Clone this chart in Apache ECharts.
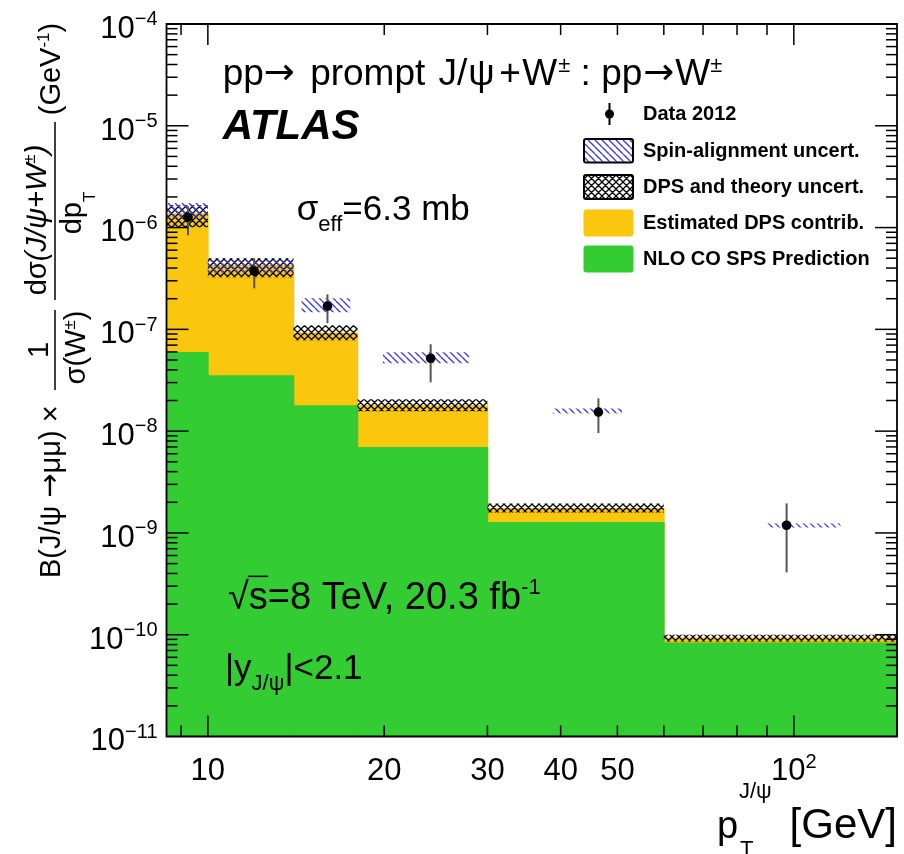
<!DOCTYPE html>
<html><head><meta charset="utf-8">
<script src="https://cdn.jsdelivr.net/npm/echarts@6/dist/echarts.min.js"></script>
<style>html,body{margin:0;padding:0;background:#fff;}#c{width:904px;height:854px;}</style>
</head><body><div id="c"></div>
<script>
// ---------------- data ----------------
const binLow  = [8.5, 10, 14, 18, 30, 60];
const binHigh = [10, 14, 18, 30, 60, 150];
const spsPrediction = [6.0e-8, 3.54e-8, 1.8e-8, 6.98e-9, 1.28e-9, 8.4e-11];
const spsPlusDps    = [1.38e-6, 4.3e-7, 9.3e-8, 1.8e-8, 1.76e-9, 9.4e-11];
const dpsUncLow  = [1.01e-6, 3.25e-7, 7.8e-8, 1.57e-8, 1.59e-9, 8.6e-11];
const dpsUncHigh = [1.66e-6, 5.0e-7, 1.1e-7, 2.06e-8, 1.95e-9, 1.0e-10];
const spinXLow  = [8.5, 10, 14.45, 19.9, 38.8, 89.8];
const spinXHigh = [10, 14, 17.5, 27.9, 50.9, 120.1];
const spinLow  = [1.24e-6, 3.57e-7, 1.47e-7, 4.65e-8, 1.49e-8, 1.13e-9];
const spinHigh = [1.74e-6, 4.79e-7, 2.02e-7, 5.96e-8, 1.67e-8, 1.24e-9];
const dataX = [9.25, 12, 16, 24, 46.4, 97.2];
const dataY = [1.265e-6, 3.73e-7, 1.69e-7, 5.2e-8, 1.54e-8, 1.19e-9];
const dataErrLow  = [8.4e-7, 2.53e-7, 1.15e-7, 3.02e-8, 9.57e-9, 4.1e-10];
const dataErrHigh = [1.62e-6, 5.0e-7, 2.21e-7, 7.14e-8, 2.1e-8, 1.95e-9];
const xTickLabelValues = [10, 20, 30, 40, 50, 100];
const xTickLabels = [['10',''], ['20',''], ['30',''], ['40',''], ['50',''], ['10','2']];
const xMajorTickValues = [10, 100];
const xMinorTickValues = [9, 20, 30, 40, 50, 60, 70, 80, 90];
const yDecadeExponents = [-11, -10, -9, -8, -7, -6, -5, -4];
const yMinorMultipliers = [2, 3, 4, 5, 6, 7, 8, 9];
const legendLabels = ['Data 2012', 'Spin-alignment uncert.', 'DPS and theory uncert.', 'Estimated DPS contrib.', 'NLO CO SPS Prediction'];

const X_MIN = 8.5, X_MAX = 150, Y_MIN = 1e-11, Y_MAX = 1e-4;
const YELLOW = '#fac60e', GREEN = '#33cc33', BLUE = '#3535ff';

// ---------------- helpers ----------------
const FF = '"Liberation Sans", Arial, Helvetica, sans-serif';
const FD = '"DejaVu Sans", sans-serif';
const mctx = document.createElement('canvas').getContext('2d');
function fnt(p) { return (p.italic ? 'italic ' : '') + (p.bold ? 'bold ' : '') + p.size + 'px ' + (p.fam || FF); }
function measure(p) { mctx.font = fnt(p); return mctx.measureText(p.t).width; }
function run(x, base, parts, align, z) {
  const ws = parts.map(p => measure(p) + (p.dx || 0));
  const total = ws.reduce((a, b) => a + b, 0);
  let cx = align === 'right' ? x - total : (align === 'center' ? x - total / 2 : x);
  const out = [];
  parts.forEach((p, i) => {
    if (p.t) {
      const el = {type: 'text', x: cx + (p.pre || 0), y: base + (p.dy || 0) - 0.3465 * p.size, silent: true,
        style: {text: p.t, font: fnt(p), fill: p.color || '#000', align: 'left', verticalAlign: 'middle'}};
      if (z != null) el.z = z;
      out.push(el);
    }
    cx += ws[i];
  });
  return out;
}
function makeHatch(size, color, lw, cross) {
  const c = document.createElement('canvas'); c.width = size; c.height = size;
  const g = c.getContext('2d'); g.strokeStyle = color; g.lineWidth = lw;
  g.beginPath();
  [-size, 0, size].forEach(k => { g.moveTo(k, 0); g.lineTo(k + size, size); });
  if (cross) [-size, 0, size].forEach(k => { g.moveTo(k + size, 0); g.lineTo(k, size); });
  g.stroke();
  return c;
}
const spinPattern = {image: makeHatch(7, BLUE, 1.3, false), repeat: 'repeat'};
const dpsPattern = {image: makeHatch(7, '#000', 1.3, true), repeat: 'repeat'};

// ---------------- render functions ----------------
function barRender(color) {
  return function (params, api) {
    const a = api.coord([api.value(0), api.value(2)]);
    const b = api.coord([api.value(1), Y_MIN]);
    // small overlap so neighbouring bins leave no anti-aliasing seam
    return {type: 'rect', shape: {x: a[0], y: a[1], width: b[0] - a[0] + 0.8, height: b[1] - a[1]}, style: {fill: color}};
  };
}
function bandRender(pattern) {
  return function (params, api) {
    const a = api.coord([api.value(0), api.value(3)]);
    const b = api.coord([api.value(1), api.value(2)]);
    return {type: 'rect', shape: {x: a[0], y: a[1], width: b[0] - a[0], height: b[1] - a[1]}, style: {fill: pattern}};
  };
}
function pointRender(params, api) {
  const x = api.value(0);
  const p = api.coord([x, api.value(1)]);
  const lo = api.coord([x, api.value(2)]);
  const hi = api.coord([x, api.value(3)]);
  return {type: 'group', children: [
    {type: 'line', shape: {x1: p[0], y1: lo[1], x2: p[0], y2: hi[1]}, style: {stroke: '#555', lineWidth: 2}},
    {type: 'circle', shape: {cx: p[0], cy: p[1], r: 4.8}, style: {fill: '#000'}}
  ]};
}
function frameRender(params, api) {
  const cs = params.coordSys;
  const L = cs.x, T = cs.y, R = cs.x + cs.width, B = cs.y + cs.height;
  const ch = [];
  const tk = (x1, y1, x2, y2) => ch.push({type: 'line', shape: {x1, y1, x2, y2}, style: {stroke: '#000', lineWidth: 1.5}});
  const px = v => api.coord([v, Y_MIN])[0];
  const py = v => api.coord([X_MIN, v])[1];
  xMajorTickValues.forEach(v => { const x = px(v); tk(x, B, x, B - 21); tk(x, T, x, T + 21); });
  xMinorTickValues.forEach(v => { const x = px(v); tk(x, B, x, B - 11); tk(x, T, x, T + 11); });
  yDecadeExponents.forEach(e => {
    const y = py(Math.pow(10, e));
    if (e > -11 && e < -4) { tk(L, y, L + 22, y); tk(R, y, R - 22, y); }
    if (e < -4) yMinorMultipliers.forEach(m => {
      const yy = py(m * Math.pow(10, e)); tk(L, yy, L + 11, yy); tk(R, yy, R - 11, yy);
    });
    ch.push(...run(L - 9, y + 16, [{t: '10', size: 31}, {t: '\u2212' + Math.abs(e), size: 20, dy: -13.4}], 'right'));
  });
  xTickLabelValues.forEach((v, i) => {
    const lab = xTickLabels[i];
    ch.push(...run(px(v), B + 45.5, [{t: lab[0], size: 31}, {t: lab[1], size: 20, dy: -13}], 'center'));
  });
  ch.push({type: 'rect', shape: {x: L, y: T, width: cs.width, height: cs.height}, style: {fill: 'rgba(0,0,0,0)', stroke: '#000', lineWidth: 1.8}});
  return {type: 'group', children: ch};
}

// ---------------- texts / legend (graphic) ----------------
const graphics = [];
const Z = 100;
graphics.push(...run(222.7, 87.5, [
  {t: 'pp', size: 37}, {t: '\u2192', size: 37, fam: FD, dx: 5}, {t: ' prompt ', size: 37, dx: 3},
  {t: 'J/', size: 37, dx: 1}, {t: '\u03c8', size: 37, dx: 3}, {t: '+', size: 37, pre: 1.5, dx: 3}, {t: 'W', size: 37, dx: 1},
  {t: '\u00b1', size: 22, dy: -14}, {t: ' : pp', size: 37, dx: 1}, {t: '\u2192', size: 37, fam: FD, dx: 1}, {t: 'W', size: 37}, {t: '\u00b1', size: 22, dy: -14}], 'left', Z));
graphics.push(...run(222.7, 141.7, [{t: 'ATLAS', size: 42, bold: true, italic: true}], 'left', Z));
graphics.push(...run(296.7, 222.7, [{t: '\u03c3', size: 35}, {t: 'eff', size: 22, dy: 10}, {t: '=6.3 mb', size: 35}], 'left', Z));
(function () {
  const x0 = 228, b = 611.7, s = 38;
  const wr = measure({t: '\u221a', size: s}), ws = measure({t: 's', size: s});
  graphics.push(...run(x0, b, [{t: '\u221a', size: s}, {t: 's', size: s}, {t: '=8 TeV, 20.3 fb', size: s}, {t: '-1', size: 22, dy: -16}], 'left', Z));
  graphics.push({type: 'line', z: Z, silent: true, shape: {x1: x0 + wr - 1, y1: b - 0.93 * s, x2: x0 + wr + ws, y2: b - 0.93 * s}, style: {stroke: '#000', lineWidth: 1.5}});
})();
graphics.push(...run(225, 681.7, [{t: '|y', size: 35}, {t: 'J/\u03c8', size: 22, dy: 10}, {t: '|<2.1', size: 35}], 'left', Z));

// x-axis title
graphics.push(...run(717, 841, [{t: 'p', size: 38}], 'left', Z));
graphics.push(...run(739, 800, [{t: 'J/\u03c8', size: 22}], 'left', Z));
graphics.push(...run(740, 858, [{t: 'T', size: 22}], 'left', Z));
graphics.push(...run(897, 841, [{t: '[GeV]', size: 42}], 'right', Z));

// y-axis title (rotated group, local u = 854 - screenY, v = screenX)
(function () {
  const ch = [];
  const S = 29, s = 17;
  ch.push(...run(276, 62, [{t: 'B(J/\u03c8 ', size: S}, {t: '\u2192', size: S, fam: FD}, {t: '\u03bc\u03bc) \u00d7', size: S}], 'left'));
  ch.push(...run(504, 50, [{t: '1', size: S}], 'center'));
  ch.push(...run(506.5, 87, [{t: '\u03c3(W', size: S}, {t: '\u00b1', size: s, dy: -11}, {t: ')', size: S}], 'center'));
  ch.push({type: 'line', shape: {x1: 464, y1: 55, x2: 544, y2: 55}, style: {stroke: '#000', lineWidth: 1.5}});
  ch.push(...run(634, 48, [{t: 'd\u03c3', size: S}, {t: '(J/\u03c8+W', size: S, italic: true}, {t: '\u00b1', size: s, dy: -12, italic: true}, {t: ')', size: S, italic: true}], 'center'));
  ch.push({type: 'line', shape: {x1: 554, y1: 55, x2: 732, y2: 55}, style: {stroke: '#000', lineWidth: 1.5}});
  ch.push(...run(641, 83, [{t: 'dp', size: S}, {t: 'T', size: s, dy: 13}], 'center'));
  ch.push(...run(785, 62, [{t: '(GeV', size: S}, {t: '-1', size: s, dy: -12}, {t: ')', size: S}], 'center'));
  graphics.push({type: 'group', x: 0, y: 854, rotation: Math.PI / 2, z: Z, silent: true, children: ch});
})();

// legend
(function () {
  const tx = 643;
  const rows = [114.5, 151, 187.5, 223.3, 259.3];
  graphics.push({type: 'line', z: Z, silent: true, shape: {x1: 609.5, y1: 103, x2: 609.5, y2: 125}, style: {stroke: '#000', lineWidth: 2}});
  graphics.push({type: 'circle', z: Z, silent: true, shape: {cx: 609.5, cy: 114, r: 4.5}, style: {fill: '#000'}});
  graphics.push({type: 'rect', z: Z, silent: true, shape: {x: 584, y: 139, width: 49, height: 23.5, r: 2}, style: {fill: spinPattern, stroke: '#000', lineWidth: 2}});
  graphics.push({type: 'rect', z: Z, silent: true, shape: {x: 584, y: 175, width: 49, height: 24, r: 2}, style: {fill: dpsPattern, stroke: '#000', lineWidth: 2}});
  graphics.push({type: 'rect', z: Z, silent: true, shape: {x: 583.5, y: 209.5, width: 50, height: 27, r: 3}, style: {fill: YELLOW}});
  graphics.push({type: 'rect', z: Z, silent: true, shape: {x: 583.5, y: 245.5, width: 50, height: 27, r: 3}, style: {fill: GREEN}});
  legendLabels.forEach((lab, i) => {
    graphics.push(...run(tx, rows[i] + 0.3465 * 20, [{t: lab, size: 20, bold: true}], 'left', Z));
  });
})();

// ---------------- chart ----------------
const chart = echarts.init(document.getElementById('c'), null, {renderer: 'canvas'});
const hiddenAxis = {axisLine: {show: false}, axisTick: {show: false}, axisLabel: {show: false}, splitLine: {show: false}};
chart.setOption({
  animation: false,
  backgroundColor: '#fff',
  grid: {left: 166.5, top: 24, width: 730.5, height: 712.5, containLabel: false},
  xAxis: Object.assign({type: 'log', logBase: 10, min: X_MIN, max: X_MAX}, hiddenAxis),
  yAxis: Object.assign({type: 'log', logBase: 10, min: Y_MIN, max: Y_MAX}, hiddenAxis),
  series: [
    {type: 'custom', name: 'Estimated DPS contrib.', z: 2, clip: true, renderItem: barRender(YELLOW),
      encode: {x: [0, 1], y: [2]}, data: binLow.map((lo, i) => [lo, binHigh[i], spsPlusDps[i]])},
    {type: 'custom', name: 'NLO CO SPS Prediction', z: 3, clip: true, renderItem: barRender(GREEN),
      encode: {x: [0, 1], y: [2]}, data: binLow.map((lo, i) => [lo, binHigh[i], spsPrediction[i]])},
    {type: 'custom', name: 'DPS and theory uncert.', z: 4, clip: true, renderItem: bandRender(dpsPattern),
      encode: {x: [0, 1], y: [2, 3]}, data: binLow.map((lo, i) => [lo, binHigh[i], dpsUncLow[i], dpsUncHigh[i]])},
    {type: 'custom', name: 'Spin-alignment uncert.', z: 5, clip: true, renderItem: bandRender(spinPattern),
      encode: {x: [0, 1], y: [2, 3]}, data: spinXLow.map((lo, i) => [lo, spinXHigh[i], spinLow[i], spinHigh[i]])},
    {type: 'custom', name: 'Data 2012', z: 6, renderItem: pointRender,
      encode: {x: [0], y: [1, 2, 3]}, data: dataX.map((x, i) => [x, dataY[i], dataErrLow[i], dataErrHigh[i]])},
    {type: 'custom', name: 'frame', z: 7, renderItem: frameRender, silent: true,
      encode: {x: [0], y: [1]}, data: [[10, 1e-6]]}
  ],
  graphic: graphics
});
</script></body></html>
